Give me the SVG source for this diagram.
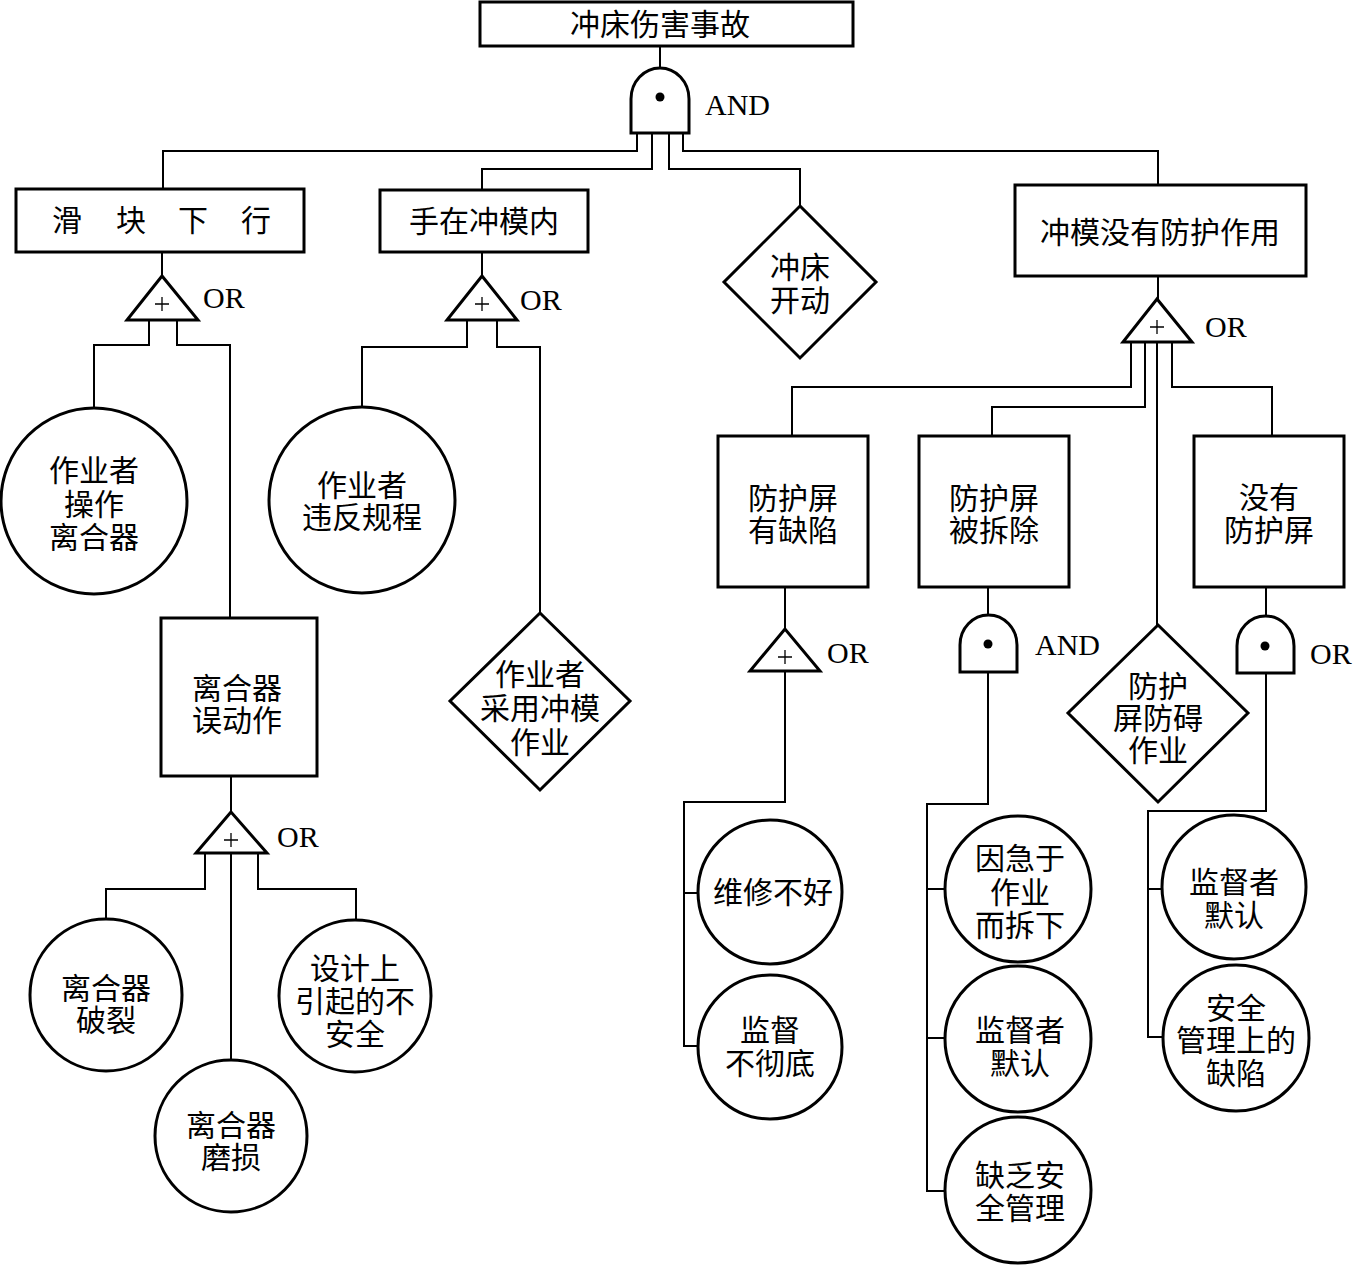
<svg xmlns="http://www.w3.org/2000/svg" width="1353" height="1265" viewBox="0 0 1353 1265">
<style>
.n{fill:#fff;stroke:#000;stroke-width:3}
.g{fill:#fff;stroke:#000;stroke-width:3;stroke-linejoin:miter}
.c{fill:none;stroke:#000;stroke-width:2}
.p{fill:none;stroke:#000;stroke-width:1.3}
.t{font-family:"Liberation Serif","Noto Sans CJK SC",serif;font-size:30px;text-anchor:middle;dominant-baseline:central;fill:#000}
.l{font-family:"Liberation Serif",serif;font-size:30px;fill:#000}
</style>
<rect width="1353" height="1265" fill="#fff"/>
<g id="connectors">
<path class="c" d="M660,46 V68"/>
<path class="c" d="M637,133 V151 H163 V189"/>
<path class="c" d="M652,133 V169 H482 V190"/>
<path class="c" d="M669,133 V169 H800 V206"/>
<path class="c" d="M683,133 V151 H1158 V185"/>
<path class="c" d="M162,252 V276"/>
<path class="c" d="M149,320 V345 H94 V408"/>
<path class="c" d="M177,320 V345 H230 V618"/>
<path class="c" d="M482,252 V276"/>
<path class="c" d="M467,320 V347 H362 V407"/>
<path class="c" d="M497,320 V347 H540 V613"/>
<path class="c" d="M231,776 V812"/>
<path class="c" d="M205,853 V889 H106 V919"/>
<path class="c" d="M231,853 V1060"/>
<path class="c" d="M258,853 V889 H356 V920"/>
<path class="c" d="M1158,276 V299"/>
<path class="c" d="M1131,342 V387 H792 V436"/>
<path class="c" d="M1145,342 V407 H992 V436"/>
<path class="c" d="M1157,342 V625"/>
<path class="c" d="M1172,342 V387 H1272 V436"/>
<path class="c" d="M785,587 V629"/>
<path class="c" d="M785,671 V802 H684 V1046 H698 M684,893 H698"/>
<path class="c" d="M988,587 V615"/>
<path class="c" d="M988,672 V804 H927 V1191 H945 M927,889 H945 M927,1038 H945"/>
<path class="c" d="M1266,587 V616"/>
<path class="c" d="M1266,673 V811 H1148 V1037 H1163 M1148,889 H1162"/>
</g>
<g id="top">
<rect class="n" x="480" y="2" width="373" height="44"/>
<text class="t" x="660" y="24">冲床伤害事故</text>
</g>
<g id="gate-top">
<path class="g" d="M631,133 V99 A29,31 0 0 1 689,99 V133 Z"/>
<circle cx="660" cy="97" r="4.5"/>
<text class="l" x="705" y="115">AND</text>
</g>
<g id="slide">
<rect class="n" x="16" y="189" width="288" height="63"/>
<text class="t" x="67 131 193 256" y="220">滑块下行</text>
</g>
<g id="gate-or1">
<path class="g" d="M162,276 L127,320 H198 Z"/>
<path class="p" d="M155,304 H169 M162,297 V311"/>
<text class="l" x="203" y="308">OR</text>
</g>
<g id="hand">
<rect class="n" x="380" y="190" width="208" height="62"/>
<text class="t" x="484" y="221">手在冲模内</text>
</g>
<g id="gate-or2">
<path class="g" d="M482,276 L447,320 H517 Z"/>
<path class="p" d="M475,304 H489 M482,297 V311"/>
<text class="l" x="520" y="310">OR</text>
</g>
<g id="press-start">
<path class="n" d="M800,206 L876,282 L800,358 L724,282 Z"/>
<text class="t" x="800" y="267">冲床</text>
<text class="t" x="800" y="300">开动</text>
</g>
<g id="no-protect">
<rect class="n" x="1015" y="185" width="291" height="91"/>
<text class="t" x="1160" y="232">冲模没有防护作用</text>
</g>
<g id="gate-or4">
<path class="g" d="M1157,299 L1123,342 H1192 Z"/>
<path class="p" d="M1150,327 H1164 M1157,320 V334"/>
<text class="l" x="1205" y="337">OR</text>
</g>
<g id="operator-clutch">
<circle class="n" cx="94" cy="501" r="93"/>
<text class="t" x="94" y="470">作业者</text>
<text class="t" x="94" y="504">操作</text>
<text class="t" x="94" y="537">离合器</text>
</g>
<g id="violate">
<circle class="n" cx="362" cy="500" r="93"/>
<text class="t" x="362" y="485">作业者</text>
<text class="t" x="362" y="517">违反规程</text>
</g>
<g id="clutch-misact">
<rect class="n" x="161" y="618" width="156" height="158"/>
<text class="t" x="237" y="688">离合器</text>
<text class="t" x="237" y="720">误动作</text>
</g>
<g id="gate-or3">
<path class="g" d="M231,812 L196,853 H267 Z"/>
<path class="p" d="M224,840 H238 M231,833 V847"/>
<text class="l" x="277" y="847">OR</text>
</g>
<g id="use-die">
<path class="n" d="M540,613 L630,701 L540,790 L450,701 Z"/>
<text class="t" x="540" y="674">作业者</text>
<text class="t" x="540" y="708">采用冲模</text>
<text class="t" x="540" y="742">作业</text>
</g>
<g id="clutch-break">
<circle class="n" cx="106" cy="995" r="76"/>
<text class="t" x="106" y="988">离合器</text>
<text class="t" x="106" y="1020">破裂</text>
</g>
<g id="clutch-wear">
<circle class="n" cx="231" cy="1136" r="76"/>
<text class="t" x="231" y="1125">离合器</text>
<text class="t" x="231" y="1157">磨损</text>
</g>
<g id="design">
<circle class="n" cx="355" cy="996" r="76"/>
<text class="t" x="355" y="968">设计上</text>
<text class="t" x="355" y="1001">引起的不</text>
<text class="t" x="355" y="1034">安全</text>
</g>
<g id="screen-defect">
<rect class="n" x="718" y="436" width="150" height="151"/>
<text class="t" x="793" y="498">防护屏</text>
<text class="t" x="793" y="530">有缺陷</text>
</g>
<g id="screen-removed">
<rect class="n" x="919" y="436" width="150" height="151"/>
<text class="t" x="994" y="498">防护屏</text>
<text class="t" x="994" y="530">被拆除</text>
</g>
<g id="no-screen">
<rect class="n" x="1194" y="436" width="150" height="151"/>
<text class="t" x="1269" y="497">没有</text>
<text class="t" x="1269" y="530">防护屏</text>
</g>
<g id="screen-hinder">
<path class="n" d="M1158,625 L1248,713 L1158,802 L1068,713 Z"/>
<text class="t" x="1158" y="686">防护</text>
<text class="t" x="1158" y="718">屏防碍</text>
<text class="t" x="1158" y="750">作业</text>
</g>
<g id="gate-or5">
<path class="g" d="M785,629 L750,671 H820 Z"/>
<path class="p" d="M778,657 H792 M785,650 V664"/>
<text class="l" x="827" y="663">OR</text>
</g>
<g id="gate-and2">
<path class="g" d="M960,672 V645 A28.5,30 0 0 1 1017,645 V672 Z"/>
<circle cx="988" cy="644" r="4.5"/>
<text class="l" x="1035" y="655">AND</text>
</g>
<g id="gate-or6">
<path class="g" d="M1237,673 V646 A28.5,30 0 0 1 1294,646 V673 Z"/>
<circle cx="1265" cy="646" r="4.5"/>
<text class="l" x="1310" y="664">OR</text>
</g>
<g id="repair">
<circle class="n" cx="770" cy="892" r="72"/>
<text class="t" x="773" y="892">维修不好</text>
</g>
<g id="supervise">
<circle class="n" cx="770" cy="1047" r="72"/>
<text class="t" x="770" y="1030">监督</text>
<text class="t" x="770" y="1063">不彻底</text>
</g>
<g id="hurry">
<circle class="n" cx="1018" cy="889" r="73"/>
<text class="t" x="1020" y="858">因急于</text>
<text class="t" x="1020" y="892">作业</text>
<text class="t" x="1020" y="925">而拆下</text>
</g>
<g id="acquiesce1">
<circle class="n" cx="1018" cy="1039" r="73"/>
<text class="t" x="1020" y="1030">监督者</text>
<text class="t" x="1020" y="1063">默认</text>
</g>
<g id="lack-mgmt">
<circle class="n" cx="1018" cy="1190" r="73"/>
<text class="t" x="1020" y="1175">缺乏安</text>
<text class="t" x="1020" y="1208">全管理</text>
</g>
<g id="acquiesce2">
<circle class="n" cx="1234" cy="887" r="72"/>
<text class="t" x="1234" y="882">监督者</text>
<text class="t" x="1234" y="915">默认</text>
</g>
<g id="mgmt-defect">
<circle class="n" cx="1236" cy="1038" r="73"/>
<text class="t" x="1236" y="1008">安全</text>
<text class="t" x="1236" y="1040">管理上的</text>
<text class="t" x="1236" y="1073">缺陷</text>
</g>
</svg>
